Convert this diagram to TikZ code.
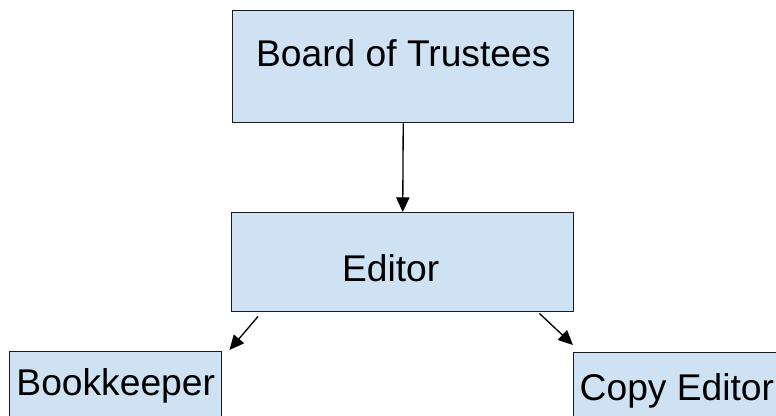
\documentclass[tikz,border=0pt]{standalone}
\usepackage{fontspec}
\setmainfont{Liberation Sans}
\usepackage{xcolor}
\usepackage{tikz}
\usetikzlibrary{arrows.meta,calc}
\definecolor{boxfill}{HTML}{CFE2F3}
\definecolor{ink}{HTML}{1A1A1A}

\begin{document}
\begin{tikzpicture}[
  x=0.75pt, y=-0.75pt,
  font=\fontsize{27.9}{33}\selectfont,
  box/.style={draw=ink, line width=1.1pt, fill=boxfill, inner sep=0pt,
    anchor=north west},
  flow/.style={-{Triangle[length=11pt,width=10pt]}, draw=black, line width=1pt},
]
  \path[use as bounding box, clip] (0,0) rectangle (776,416);
  \node[box, minimum width=255.75pt, minimum height=84pt,
    text height=22pt, text depth=22pt] (bot) at (232,10) {Board of Trustees};
  \node[box, minimum width=256.5pt, minimum height=74.25pt,
    text height=29.25pt, text depth=0pt] (ed) at (231,212) {Editor\hspace*{18pt}};
  \node[box, minimum width=159pt, minimum height=67.5pt,
    text height=33pt, text depth=34.5pt] (bk) at (9,351) {Bookkeeper};
  \node[box, inner xsep=4.5pt, minimum height=67.5pt,
    text height=36pt, text depth=31.5pt] (ce) at (573,352) {Copy Editor};
  \draw[flow] (bot.south) -- (ed.north);
  \draw[flow] ($(ed.south west)+(27,4)$) -- ($(bk.north east)+(7,-1)$);
  \draw[flow] ($(ed.south east)+(-35,1)$) -- ($(ce.north west)+(0,-7)$);
\end{tikzpicture}
\end{document}
